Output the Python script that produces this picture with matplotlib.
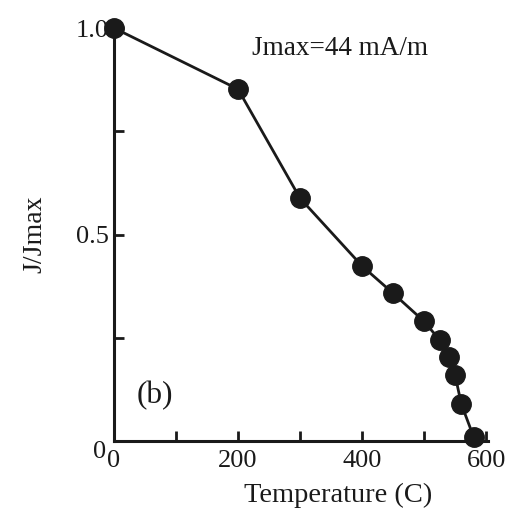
import matplotlib
matplotlib.use("Agg")
import matplotlib.pyplot as plt
import matplotlib.transforms as mtrans

# data
temp = [0, 200, 300, 400, 450, 500, 525, 540, 550, 560, 580]
jnorm = [1.0, 0.852, 0.588, 0.424, 0.358, 0.29, 0.245, 0.204, 0.16, 0.09, 0.01]
xticks_major = [0, 200, 400, 600]
xticks_minor = [100, 300, 500]
yticks = [0, 0.25, 0.5, 0.75, 1.0]
ylabels = ["0", "", "0.5", "", "1.0"]

plt.rcParams["font.family"] = ["Liberation Serif", "DejaVu Serif"]
fig = plt.figure(figsize=(5.23, 5.29), dpi=100)
ax = fig.add_axes([0.218, 0.166, 0.715, 0.781])
ax.plot(temp, jnorm, "-o", color="#1a1a1a", lw=2, ms=14, clip_on=False, zorder=3)
ax.set_xlim(0, 603)
ax.set_ylim(0, 1)
for s in ["top", "right"]:
    ax.spines[s].set_visible(False)
for s in ["left", "bottom"]:
    ax.spines[s].set_linewidth(2.2)
    ax.spines[s].set_color("#1a1a1a")
ax.set_xticks(xticks_major)
ax.set_xticks(xticks_minor, minor=True)
ax.set_yticks(yticks)
ax.set_yticklabels(ylabels)
ax.tick_params(axis="both", which="both", direction="in", width=2, length=7,
               color="#1a1a1a", labelsize=19, labelcolor="#1a1a1a")
ax.tick_params(axis="x", pad=6)
ax.tick_params(axis="y", pad=4)
# the "0" on the y axis sits a bit below the corner in the original
lab0 = ax.get_yticklabels()[0]
lab0.set_transform(lab0.get_transform() + mtrans.ScaledTranslation(-0.02, -0.08, fig.dpi_scale_trans))
ax.set_xlabel("Temperature (C)", fontsize=20.5, color="#1a1a1a", labelpad=7)
ax.xaxis.set_label_coords(0.598, -0.1)
ax.set_ylabel("J/Jmax", fontsize=20, color="#1a1a1a", labelpad=20)
ax.text(0.37, 0.95, "Jmax=44 mA/m", transform=ax.transAxes, fontsize=19.5, color="#1a1a1a", va="center")
ax.text(0.06, 0.11, "(b)", transform=ax.transAxes, fontsize=22.5, color="#1a1a1a", va="center")
fig.savefig("out.png", dpi=100)
